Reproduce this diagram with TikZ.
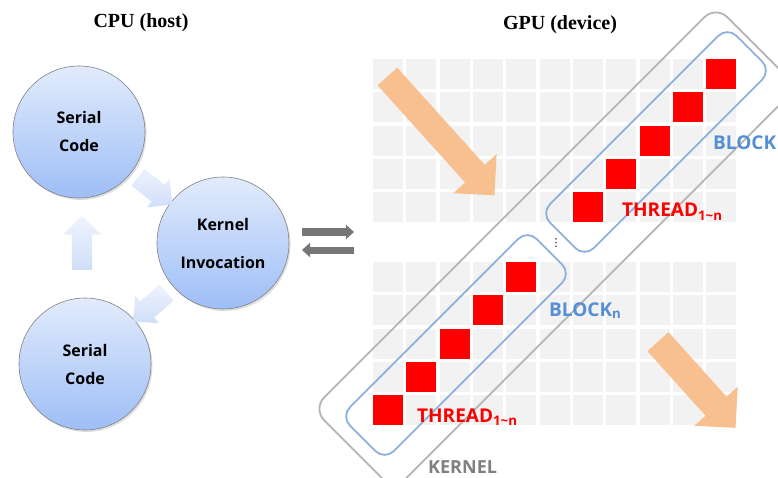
\documentclass[tikz,border=0pt]{standalone}
\usepackage{fontspec}
\setmainfont{Liberation Serif}
\newfontfamily\labelfont{Open Sans}
\newfontfamily\symfont{DejaVu Sans}
\usetikzlibrary{arrows.meta, positioning, calc, shapes.arrows, shadows}

\definecolor{circtop}{RGB}{226,235,252}
\definecolor{circbot}{RGB}{158,190,246}
\definecolor{cellgray}{RGB}{242,242,242}
\definecolor{blockblue}{RGB}{142,176,220}
\definecolor{blocktext}{RGB}{85,142,213}
\definecolor{kernelgray}{RGB}{180,180,180}
\definecolor{kerneltext}{RGB}{127,127,127}
\definecolor{flowblue}{RGB}{208,222,249}
\definecolor{sweep}{RGB}{249,192,143}
\definecolor{xfergray}{RGB}{118,118,118}

\begin{document}
\begin{tikzpicture}[x=1pt,y=-1pt,>=Stealth]
        \tikzstyle{title}=[font=\bfseries\fontsize{20}{24}\selectfont]
        \tikzstyle{code}=[circle,draw=gray,line width=0.6pt,top color=circtop,bottom color=circbot,minimum size=132pt,align=center,font=\labelfont\bfseries\fontsize{16}{28}\selectfont,drop shadow={shadow xshift=1.5pt,shadow yshift=-2pt,opacity=0.25}]
        \tikzstyle{flow}=[single arrow,draw=none,top color=flowblue!35!white,bottom color=flowblue,inner sep=10.5pt,single arrow head extend=7.5pt,minimum height=44pt]
        \tikzstyle{sweeparrow}=[single arrow,draw=none,fill=sweep,single arrow head extend=16pt]
        \tikzstyle{xfer}=[line width=7pt,draw=xfergray,-{Triangle[width=14pt,length=8pt]}]
        \tikzstyle{cell}=[fill=cellgray]
        \tikzstyle{thread}=[fill=red]
        \tikzstyle{kernelbox}=[draw=kernelgray,line width=1.8pt,rounded corners=16pt,rotate=45,minimum width=570pt,minimum height=115pt]
        \tikzstyle{blockbox}=[draw=blockblue,line width=1.8pt,rounded corners=13pt,rotate=45,minimum width=264pt,minimum height=62pt]
        \tikzstyle{lbl}=[inner sep=0pt,font=\labelfont\bfseries\fontsize{19}{22}\selectfont]
        \useasboundingbox (0,0) rectangle (778,478);
        % host side
        \node[title] (cpu) at (141,23) {CPU (host)};
        \node[code] (serialA) at (79,132) {Serial\\Code};
        \node[code] (kernel) at (223,243) {Kernel\\[10pt]Invocation};
        \node[code] (serialB) at (85,364) {Serial\\Code};
        \node[flow,rotate=-38] (toKernel) at ($(serialA)!0.5!(kernel)$) {};
        \node[flow,rotate=-139] (toSerial) at ($(kernel)!0.5!(serialB)$) {};
        \node[flow,rotate=90,minimum height=54pt,inner sep=10pt,single arrow head extend=8.5pt] (toTop) at ($(serialB)!0.5!(serialA)$) {};
        % host <-> device
        \coordinate (xferA) at (302,232);
        \coordinate (xferB) at (354,232);
        \coordinate (xferC) at (354,250);
        \coordinate (xferD) at (302,250);
        \draw[xfer] (xferA) -- (xferB);
        \draw[xfer] (xferC) -- (xferD);
        % device side
        \node[title] (gpu) at (560,25) {GPU (device)};
        \foreach \r in {0,...,4}{
            \foreach \c in {0,...,10}{
                \fill[cell] ({373+33.33*\c},{59+33.33*\r}) rectangle +(30,30);
                \fill[cell] ({373+33.33*\c},{262+33.33*\r}) rectangle +(30,30);
            }
        }
        \foreach \i in {0,...,4}{
            \fill[thread] ({373+33.33*(10-\i)},{59+33.33*\i}) rectangle +(30,30);
            \fill[thread] ({373+33.33*(4-\i)},{262+33.33*\i}) rectangle +(30,30);
        }
        \node[sweeparrow,rotate=-48,minimum height=160pt,inner sep=13pt] (sweepA) at (436.5,131) {};
        \node[sweeparrow,rotate=-48,minimum height=116pt,inner sep=14pt,single arrow head extend=15pt] (sweepB) at (692,379.5) {};
        \node[kernelbox] (kern) at (555,248) {};
        \node[blockbox] (blockA) at (656,142) {};
        \node[blockbox] (blockN) at (456,345) {};
        \node[inner sep=0pt,text=black!85!blue,font=\symfont\fontsize{11}{11}\selectfont] (gap) at (556,243) {⋮};
        \node[lbl,text=blocktext,anchor=base west] (lblA) at (713,150) {BLOCK};
        \node[lbl,text=red,anchor=base west] (thrA) at (622,217) {THREAD\textsubscript{1\textasciitilde n}};
        \node[lbl,text=blocktext,anchor=base west] (lblN) at (549,316) {BLOCK\textsubscript{n}};
        \node[lbl,text=red,anchor=base west] (thrN) at (417,422) {THREAD\textsubscript{1\textasciitilde n}};
        \node[lbl,text=kerneltext,anchor=base west,font=\labelfont\bfseries\fontsize{18}{20}\selectfont] (lblK) at (428,473) {KERNEL};
    \end{tikzpicture}
\end{document}
